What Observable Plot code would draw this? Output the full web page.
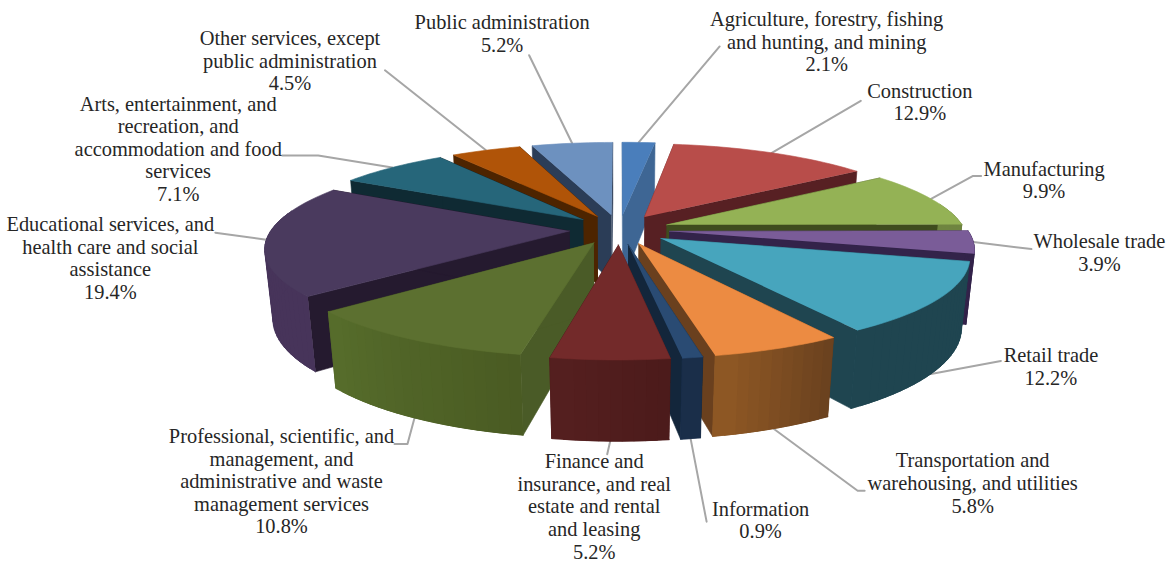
<!DOCTYPE html>
<html>
<head>
<meta charset="utf-8">
<style>html,body{margin:0;padding:0;background:#fff}svg{display:block}</style>
<script src="https://cdn.jsdelivr.net/npm/d3@7"></script>
<script src="https://cdn.jsdelivr.net/npm/@observablehq/plot@0.6"></script>
</head>
<body>
<div id="chart"></div>
<script>
// --- data, clockwise from 12 o'clock ---
const sectors = [
  "Agriculture, forestry, fishing\nand hunting, and mining",
  "Construction",
  "Manufacturing",
  "Wholesale trade",
  "Retail trade",
  "Transportation and\nwarehousing, and utilities",
  "Information",
  "Finance and\ninsurance, and real\nestate and rental\nand leasing",
  "Professional, scientific, and\nmanagement, and\nadministrative and waste\nmanagement services",
  "Educational services, and\nhealth care and social\nassistance",
  "Arts, entertainment, and\nrecreation, and\naccommodation and food\nservices",
  "Other services, except\npublic administration",
  "Public administration"
];
const shares = [2.1, 12.9, 9.9, 3.9, 12.2, 5.8, 0.9, 5.2, 10.8, 19.4, 7.1, 4.5, 5.2];

// --- styles ---
const topColors  = ["#4a7ebb","#b84d4a","#94b255","#7a5c98","#47a5bd","#ec8b42","#2a4b73","#732a2a","#5c7030","#4a3a5e","#26667a","#b05408","#6d91bf"];
const wallColors = ["#3e6694","#572023","#3f4c1e","#33234a","#1f4550","#6a401e","#13263b","#4a1a1a","#4a5b27","#251a2f","#0f2a33","#4d2400","#2b3d57"];
const rimFrom    = ["#3e6694","#8a3a38","#6f8540","#33234a","#1f4550","#8f5824","#1a2e49","#541f1f","#566c2b","#47345a","#1c4d5c","#843f06","#52708f"];
const rimTo      = ["#3e6694","#8a3a38","#6f8540","#33234a","#1f4550","#653e1e","#1a2e49","#4a1a1a","#495a22","#47345a","#1c4d5c","#843f06","#52708f"];

// --- 3-D pie view ---
const view = {cx: 619, cy: 229, kx: 298, ky: 89.5, persp: 0.17, base: 0.023, depth: 70, explode: 0.168};
const rimLevel = [0,0,0,0,1,1,1,1,1,0,0,0,0];                         // leader leaves top (0) or bottom (1) rim
const labelShift = [[188,-101],[148,-51],[113,-19],[126,10],[120,-8],[199,54],[70,81],[-16,65],[-133,63],[-156,18],[-214,-19],[-196,-90],[-70,-110]];
const leaderBends = [
  [[81,-96]],[[89,-52]],[[42,-23],[50,-23]],[[58,7]],[[70,-13]],[[84,62],[91,62]],
  [[16,83]],[[-3,13]],[[-7,26],[-20,26]],[[-51,-7]],[[-74,-12],[-110,-12]],[[-101,-80]],[[-43,-88]]
];

const total = d3.sum(shares);
const project = (X, Y, z) => {
  const D = 1 + view.persp * Y + view.base * z;
  return [view.cx + view.kx * X / D, view.cy - (view.ky * Y - view.depth * z) / D];
};
let running = 0;
const slices = shares.map((v, i) => {
  const a0 = running / total * 2 * Math.PI;
  running += v;
  const a1 = running / total * 2 * Math.PI;
  const mid = (a0 + a1) / 2;
  return {i, a0, a1, mid, ox: view.explode * Math.sin(mid), oy: view.explode * Math.cos(mid)};
});
const rimAt = (s, a, z) => project(s.ox + Math.sin(a), s.oy + Math.cos(a), z);
const apexAt = (s, z) => project(s.ox, s.oy, z);

// back to front
const polys = [];
let id = 0;
const addPoly = (pts, color) => { id++; pts.forEach(p => polys.push({id, x: p[0], y: p[1], color})); };
for (const s of [...slices].sort((a, b) => Math.cos(b.mid) - Math.cos(a.mid))) {
  const n = Math.max(2, Math.ceil((s.a1 - s.a0) / (Math.PI / 90)));
  const angles = d3.range(n + 1).map(k => s.a0 + (s.a1 - s.a0) * k / n);
  // radial walls
  for (const a of [s.a0, s.a1]) {
    addPoly([apexAt(s, 0), rimAt(s, a, 0), rimAt(s, a, 1), apexAt(s, 1)], wallColors[s.i]);
  }
  // outer wall: strips laid left-to-right in the picture, each overlapping the next so no seams show
  const shade = d3.interpolateRgb(rimFrom[s.i], rimTo[s.i]);
  const ltr = d3.range(n).sort((p, q) => Math.sin(angles[p]) - Math.sin(angles[q]));
  const strips = [];
  for (let k = 0; k < n; k++) {
    const m = (angles[k] + angles[k + 1]) / 2;
    if (Math.cos(m) < 0.2) {
      const far = angles[Math.min(k + 2, n)], near = angles[Math.max(k - 1, 0)];
      strips.push({k, quad: [rimAt(s, near, 0), rimAt(s, far, 0), rimAt(s, far, 1), rimAt(s, near, 1)]});
    }
  }
  for (const st of strips) addPoly(st.quad, shade((ltr.indexOf(st.k) + 0.5) / n));
  // top face
  addPoly([apexAt(s, 0), ...angles.map(a => rimAt(s, a, 0))], topColors[s.i]);
}

const leaders = [];
const labels = slices.map(s => {
  const start = rimAt(s, s.mid, rimLevel[s.i]);
  leaders.push({id: s.i, x: start[0], y: start[1]});
  leaderBends[s.i].forEach(b => leaders.push({id: s.i, x: start[0] + b[0], y: start[1] + b[1]}));
  return {
    x: start[0] + labelShift[s.i][0],
    y: start[1] + labelShift[s.i][1],
    text: `${sectors[s.i]}\n${shares[s.i].toFixed(1)}%`
  };
});

const chart = Plot.plot({
  width: 1172, height: 564,
  margin: 0,
  x: {domain: [0, 1172], range: [0, 1172], axis: null},
  y: {domain: [0, 564], range: [0, 564], axis: null},
  color: {type: "identity"},
  style: {background: "#fff"},
  marks: [
    Plot.line(leaders, {x: "x", y: "y", z: "id", stroke: "#a6a6a6", strokeWidth: 2}),
    Plot.line(polys, {x: "x", y: "y", z: "id", fill: "color", stroke: "color", strokeWidth: 0.6}),
    Plot.text(labels, {x: "x", y: "y", text: "text", fontFamily: "'Liberation Serif', serif", fontSize: 20.4, lineHeight: 1.108, fill: "#262626", textAnchor: "middle"})
  ]
});
document.getElementById("chart").appendChild(chart);
</script>
</body>
</html>
